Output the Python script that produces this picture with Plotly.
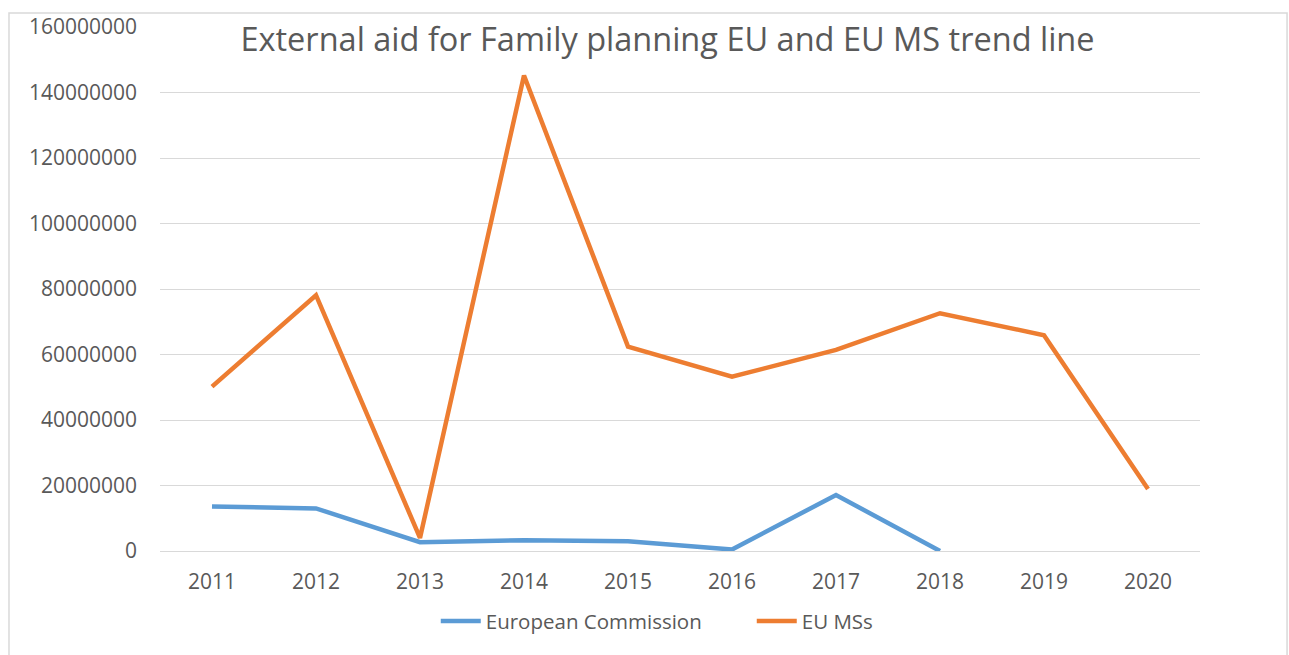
import plotly.graph_objects as go

years = ["2011", "2012", "2013", "2014", "2015", "2016", "2017", "2018", "2019", "2020"]
european_commission = [13600000, 13000000, 2700000, 3300000, 3000000, 450000, 17100000, 0, None, None]
eu_mss = [50200000, 78100000, 4000000, 145200000, 62400000, 53200000, 61400000, 72600000, 65900000, 18900000]
y_ticks = [0, 20000000, 40000000, 60000000, 80000000, 100000000, 120000000, 140000000, 160000000]

FONT = "Open Sans"
GRAY = "#595959"

fig = go.Figure()
fig.add_trace(go.Scatter(x=years, y=european_commission, mode="lines", name="European Commission",
                         line=dict(color="#5B9BD5", width=4.5), connectgaps=False))
fig.add_trace(go.Scatter(x=years, y=eu_mss, mode="lines", name="EU MSs",
                         line=dict(color="#ED7D31", width=4.5)))

fig.update_layout(
    width=1289, height=655,
    paper_bgcolor="white", plot_bgcolor="white",
    margin=dict(l=160, r=89, t=24, b=103.5),
    font=dict(family=FONT, size=21, color=GRAY),
    title=dict(text="External aid for Family planning EU and EU MS trend line",
               x=0.488, xref="paper", xanchor="center",
               y=0.94, yref="container", yanchor="middle",
               font=dict(family=FONT, size=32.5, color=GRAY)),
    showlegend=True,
    legend=dict(orientation="h", x=0.569, xanchor="center", y=-0.134, yanchor="middle",
                font=dict(family=FONT, size=20.5, color=GRAY), bgcolor="rgba(0,0,0,0)",
                itemwidth=40, entrywidth=261),
    xaxis=dict(type="category", range=[-0.5, 9.5], showgrid=False, showline=True,
               linecolor="#D9D9D9", linewidth=1,
               ticks="outside", ticklen=12, tickcolor="rgba(0,0,0,0)",
               tickfont=dict(family=FONT, size=21, color=GRAY), fixedrange=True),
    yaxis=dict(range=[0, 160000000], tickvals=y_ticks, tickformat="d", showgrid=True,
               gridcolor="#D9D9D9", gridwidth=1, zeroline=False, showline=False,
               ticklabelstandoff=22,
               tickfont=dict(family=FONT, size=21, color=GRAY), fixedrange=True),
    shapes=[dict(type="rect", xref="paper", yref="paper", x0=-0.1452, x1=1.0837, y0=-0.22, y1=1.0265,
                 line=dict(color="#D9D9D9", width=1.5), fillcolor="rgba(0,0,0,0)", layer="below")],
)

fig.write_html("out.html", config={"displayModeBar": False},
               post_script="document.body.style.margin='0';")
